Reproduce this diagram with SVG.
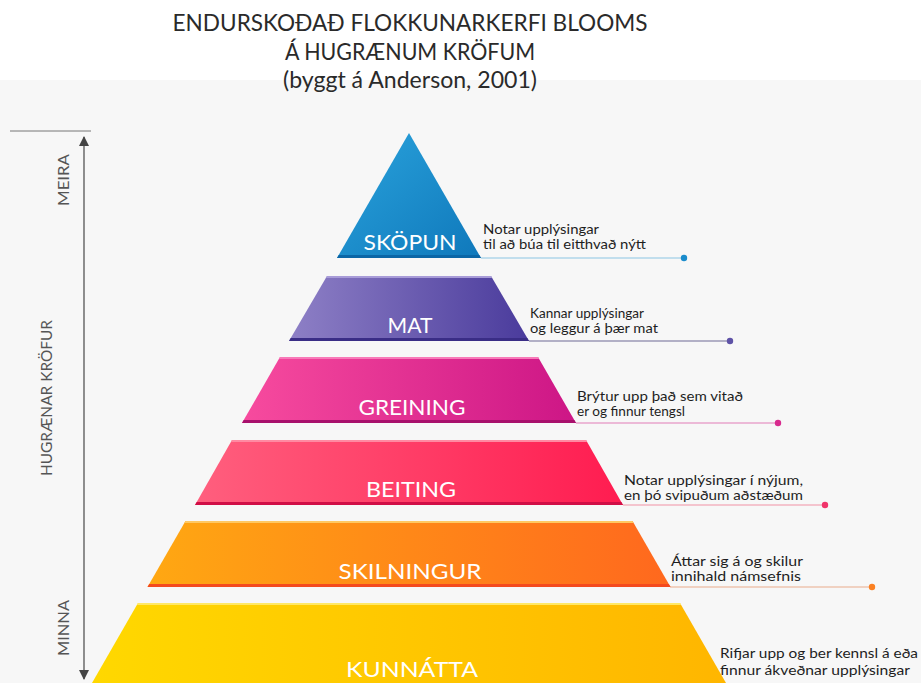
<svg xmlns="http://www.w3.org/2000/svg" width="921" height="683" viewBox="0 0 921 683">
<defs>
<linearGradient id="gBlue" x1="0" y1="0" x2="1" y2="1"><stop offset="0" stop-color="#2aa3dc"/><stop offset="1" stop-color="#0f78bb"/></linearGradient>
<linearGradient id="gPurple" x1="0" y1="0" x2="1" y2="0"><stop offset="0" stop-color="#8e80c6"/><stop offset="1" stop-color="#4a3b9c"/></linearGradient>
<linearGradient id="gMagenta" x1="0" y1="0" x2="1" y2="0"><stop offset="0" stop-color="#f74b9e"/><stop offset="1" stop-color="#cd1686"/></linearGradient>
<linearGradient id="gRed" x1="0" y1="0" x2="1" y2="0"><stop offset="0" stop-color="#ff5f7e"/><stop offset="1" stop-color="#ff1c50"/></linearGradient>
<linearGradient id="gOrange" x1="0" y1="0" x2="1" y2="0"><stop offset="0" stop-color="#ffa812"/><stop offset="1" stop-color="#ff681e"/></linearGradient>
<linearGradient id="gYellow" x1="0" y1="0" x2="1" y2="0"><stop offset="0" stop-color="#ffd800"/><stop offset="1" stop-color="#ffb600"/></linearGradient>
<marker id="arr" viewBox="0 0 10 10" refX="9" refY="5" markerWidth="10" markerHeight="10" markerUnits="userSpaceOnUse" orient="auto-start-reverse"><path d="M0,0 L10,5 L0,10 z" fill="#444"/></marker>
</defs>
<style>
.title{font-family:Lato,"Liberation Sans",sans-serif;fill:#2a2a2a;text-anchor:middle;font-size:23px;}
.lbl{font-family:Lato,"Liberation Sans",sans-serif;fill:#ffffff;font-size:22px;text-anchor:middle;}
.desc{font-family:Lato,"Liberation Sans",sans-serif;fill:#1e1e1e;font-size:13.5px;}
.ax{font-family:Lato,"Liberation Sans",sans-serif;fill:#555;font-size:15px;text-anchor:middle;}
.conn{stroke-width:1.2;fill:none;}
</style>
<rect x="0" y="0" width="921" height="683" fill="#ffffff"/>
<rect x="0" y="80" width="921" height="603" fill="#f7f7f7"/>

<g id="title">
<text class="title" x="410" y="31" textLength="475" lengthAdjust="spacingAndGlyphs">ENDURSKOÐAÐ FLOKKUNARKERFI BLOOMS</text>
<text class="title" x="410" y="60" textLength="250" lengthAdjust="spacingAndGlyphs">Á HUGRÆNUM KRÖFUM</text>
<text class="title" x="410" y="88" textLength="254" lengthAdjust="spacingAndGlyphs">(byggt á Anderson, 2001)</text>
</g>

<g id="axis">
<line x1="10" y1="131" x2="91" y2="131" stroke="#777" stroke-width="1"/>
<line x1="84" y1="137" x2="84" y2="679" stroke="#555" stroke-width="1.3" marker-start="url(#arr)" marker-end="url(#arr)"/>
<text class="ax" transform="translate(69,180) rotate(-90)" textLength="52" lengthAdjust="spacingAndGlyphs">MEIRA</text>
<text class="ax" transform="translate(52,398) rotate(-90)" textLength="156" lengthAdjust="spacingAndGlyphs">HUGRÆNAR KRÖFUR</text>
<text class="ax" transform="translate(69,628) rotate(-90)" textLength="56" lengthAdjust="spacingAndGlyphs">MINNA</text>
</g>

<g id="connectors">
<line class="conn" x1="481" y1="258" x2="684" y2="258" stroke="#8cc6e4"/>
<circle cx="684" cy="258" r="3.2" fill="#1a8ccc"/>
<line class="conn" x1="529" y1="341" x2="730" y2="341" stroke="#6e6a96"/>
<circle cx="730" cy="341" r="3.2" fill="#5e52a6"/>
<line class="conn" x1="576" y1="423" x2="778" y2="423" stroke="#e27cb8"/>
<circle cx="778" cy="423" r="3.2" fill="#d82a8e"/>
<line class="conn" x1="623" y1="505" x2="825" y2="505" stroke="#f291a6"/>
<circle cx="825" cy="505" r="3.2" fill="#f0346a"/>
<line class="conn" x1="670" y1="587" x2="872" y2="587" stroke="#e9ab8c"/>
<circle cx="872" cy="587" r="3.2" fill="#fb8122"/>
</g>

<g id="skopun">
<polygon points="409,133 337,258 481,258" fill="url(#gBlue)"/>
<polygon points="338.7,255 479.3,255 481,258 337,258" fill="#0b66a6"/>
<text class="lbl" x="410" y="250" textLength="93" lengthAdjust="spacingAndGlyphs">SKÖPUN</text>
<text class="desc" x="483" y="234" textLength="116" lengthAdjust="spacingAndGlyphs">Notar upplýsingar</text>
<text class="desc" x="483" y="249" textLength="163" lengthAdjust="spacingAndGlyphs">til að búa til eitthvað nýtt</text>
</g>

<g id="mat">
<polygon points="327,276 491,276 529,341 289,341" fill="url(#gPurple)"/>
<polygon points="327,276 491,276 492.2,278 325.8,278" fill="#a89cd8"/>
<polygon points="290.7,338 527.3,338 529,341 289,341" fill="#3a2d86"/>
<text class="lbl" x="410" y="333" textLength="45" lengthAdjust="spacingAndGlyphs">MAT</text>
<text class="desc" x="530" y="318" textLength="114" lengthAdjust="spacingAndGlyphs">Kannar upplýsingar</text>
<text class="desc" x="530" y="333" textLength="128" lengthAdjust="spacingAndGlyphs">og leggur á þær mat</text>
</g>

<g id="greining">
<polygon points="280,357 538,357 576,423 242,423" fill="url(#gMagenta)"/>
<polygon points="280,357 538,357 539.2,359 278.8,359" fill="#f879b8"/>
<polygon points="243.7,420 574.3,420 576,423 242,423" fill="#a8106c"/>
<text class="lbl" x="412" y="415" textLength="107" lengthAdjust="spacingAndGlyphs">GREINING</text>
<text class="desc" x="577" y="401" textLength="166" lengthAdjust="spacingAndGlyphs">Brýtur upp það sem vitað</text>
<text class="desc" x="577" y="416" textLength="108" lengthAdjust="spacingAndGlyphs">er og finnur tengsl</text>
</g>

<g id="beiting">
<polygon points="232,440 586,440 623,505 195,505" fill="url(#gRed)"/>
<polygon points="232,440 586,440 587.2,442 230.8,442" fill="#ff8aa2"/>
<polygon points="196.7,502 621.3,502 623,505 195,505" fill="#d00e46"/>
<text class="lbl" x="411" y="497" textLength="90" lengthAdjust="spacingAndGlyphs">BEITING</text>
<text class="desc" x="624" y="485" textLength="179" lengthAdjust="spacingAndGlyphs">Notar upplýsingar í nýjum,</text>
<text class="desc" x="624" y="500" textLength="179" lengthAdjust="spacingAndGlyphs">en þó svipuðum aðstæðum</text>
</g>

<g id="skilningur">
<polygon points="185.5,521 632.5,521 670.5,587 147.5,587" fill="url(#gOrange)"/>
<polygon points="185.5,521 632.5,521 633.7,523 184.3,523" fill="#ffc862"/>
<polygon points="149.2,584 668.8,584 670.5,587 147.5,587" fill="#f44a1e"/>
<text class="lbl" x="410" y="579" textLength="143" lengthAdjust="spacingAndGlyphs">SKILNINGUR</text>
<text class="desc" x="671" y="566" textLength="132" lengthAdjust="spacingAndGlyphs">Áttar sig á og skilur</text>
<text class="desc" x="671" y="581" textLength="130" lengthAdjust="spacingAndGlyphs">innihald námsefnis</text>
</g>

<g id="kunnatta">
<polygon points="138,603 680,603 726,683 92,683" fill="url(#gYellow)"/>
<polygon points="138,603 680,603 681.2,605 136.8,605" fill="#ffe866"/>
<text class="lbl" x="412" y="677" textLength="132" lengthAdjust="spacingAndGlyphs">KUNNÁTTA</text>
<text class="desc" x="720" y="658" textLength="198" lengthAdjust="spacingAndGlyphs">Rifjar upp og ber kennsl á eða</text>
<text class="desc" x="720" y="675" textLength="190" lengthAdjust="spacingAndGlyphs">finnur ákveðnar upplýsingar</text>
</g>
</svg>
